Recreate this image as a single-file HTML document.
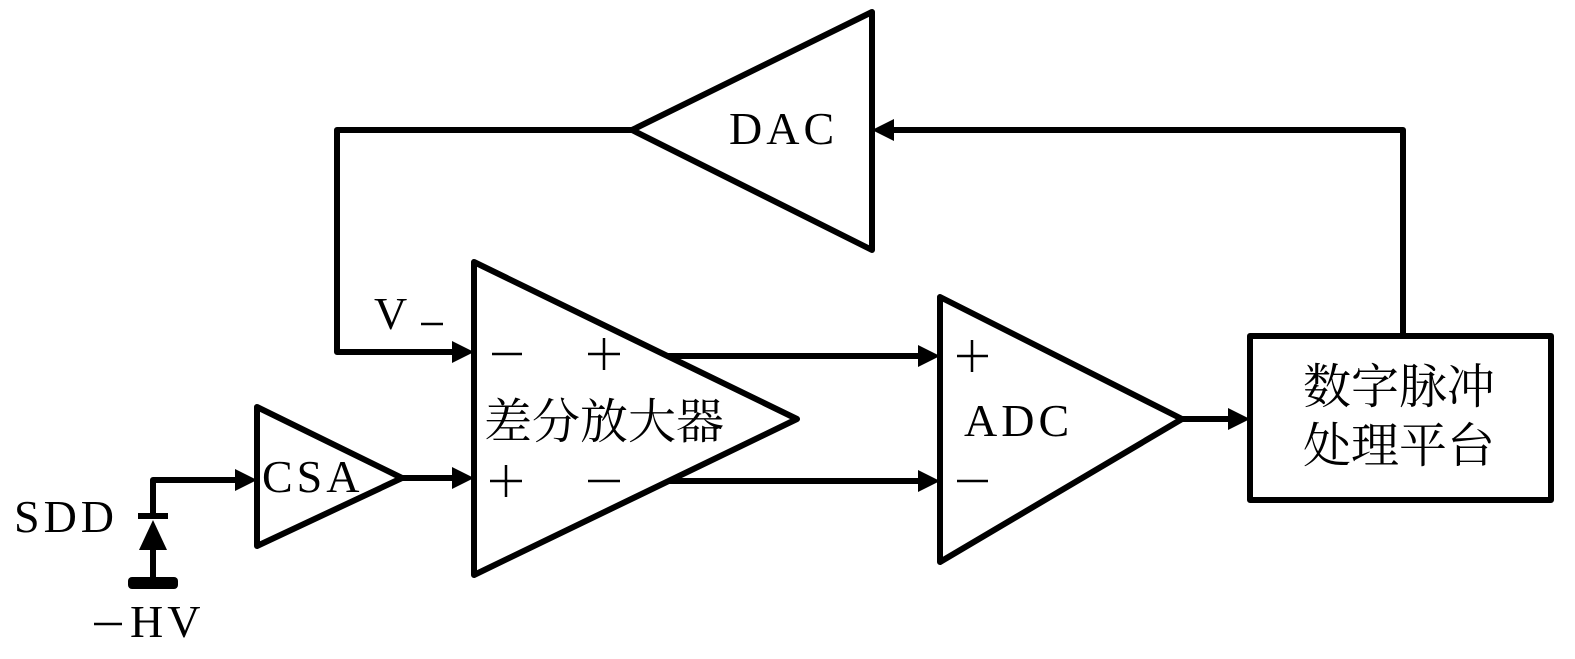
<!DOCTYPE html>
<html><head><meta charset="utf-8"><style>
html,body{margin:0;padding:0;background:#fff;}
svg{display:block;}
text{font-family:"Liberation Serif","Noto Serif CJK SC",serif;fill:#000;}
</style></head><body>
<svg width="1575" height="659" viewBox="0 0 1575 659" xmlns="http://www.w3.org/2000/svg">
<g fill="none" stroke="#000" stroke-width="6" stroke-linejoin="round">
<polygon points="872,12 872,250 632,130"/>
<polygon points="474,262 474,575 797,419"/>
<polygon points="257,407 257,546 402,478"/>
<polygon points="940,297 940,562 1182,419"/>
<rect x="1250" y="336" width="301" height="164"/>
<polyline points="632,130 337,130 337,352 455,352"/>
<line x1="402" y1="478" x2="455" y2="478"/>
<polyline points="153,516 153,480 238,480"/>
<line x1="668" y1="356" x2="920" y2="356"/>
<line x1="668" y1="481" x2="920" y2="481"/>
<line x1="1182" y1="419" x2="1232" y2="419"/>
<polyline points="1403,336 1403,130 892,130"/>
<line x1="153" y1="545" x2="153" y2="582"/>
<line x1="138" y1="516" x2="168" y2="516"/>
</g>
<g stroke="#000" stroke-width="2.5">
<line x1="492" y1="354" x2="522" y2="354"/>
<line x1="588" y1="354" x2="620" y2="354"/><line x1="604" y1="338" x2="604" y2="370"/>
<line x1="490" y1="481" x2="522" y2="481"/><line x1="506" y1="465" x2="506" y2="497"/>
<line x1="588" y1="481" x2="620" y2="481"/>
<line x1="957" y1="356" x2="988" y2="356"/><line x1="972" y1="340" x2="972" y2="372"/>
<line x1="957" y1="481" x2="988" y2="481"/>
<line x1="94" y1="624" x2="122" y2="624"/>
<line x1="421" y1="324" x2="443" y2="324"/>
</g>
<g fill="#000">
<polygon points="474,352 452,341 452,363"/>
<polygon points="474,478 452,467 452,489"/>
<polygon points="257,480 235,469 235,491"/>
<polygon points="940,356 918,345 918,367"/>
<polygon points="940,481 918,470 918,492"/>
<polygon points="1250,419 1228,408 1228,430"/>
<polygon points="872,130 894,119 894,141"/>
<polygon points="153,520 139,550 167,550"/>
<rect x="128" y="577" width="50" height="12" rx="4"/>
</g>
<g font-size="46" letter-spacing="4">
<text x="729" y="144">DAC</text>
<text x="262" y="492">CSA</text>
<text x="964" y="436">ADC</text>
<text x="14" y="532">SDD</text>
<text x="130" y="637">HV</text>
<text x="374" y="329">V</text>
</g>
<g font-size="48">
<text x="484" y="438">差分放大器</text>
<text x="1303" y="403">数字脉冲</text>
<text x="1303" y="462">处理平台</text>
</g>
</svg>
</body></html>
